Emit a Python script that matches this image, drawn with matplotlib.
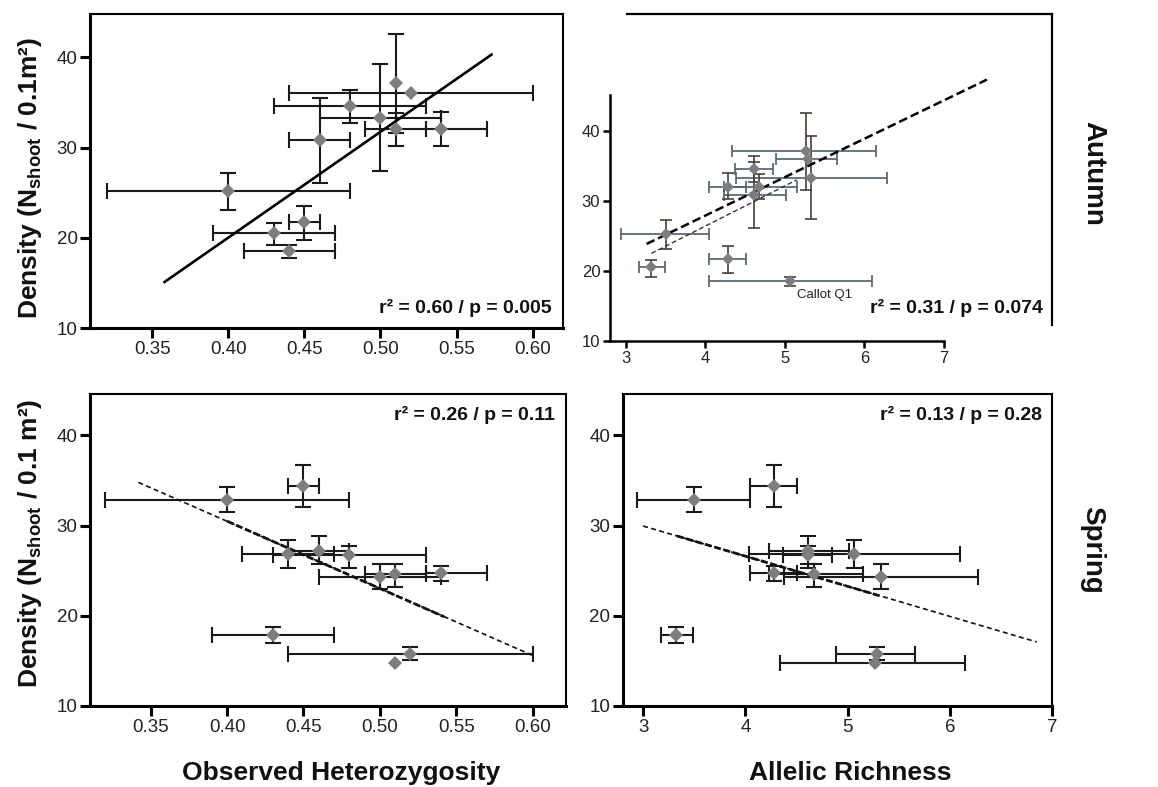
import numpy as np
import matplotlib
matplotlib.use("Agg")
import matplotlib.pyplot as plt

plt.rcParams['font.family'] = ['Liberation Sans', 'DejaVu Sans']
plt.rcParams['mathtext.fontset'] = 'custom'
plt.rcParams['mathtext.rm'] = 'Liberation Sans'
plt.rcParams['mathtext.bf'] = 'Liberation Sans:bold'

# ---- data (one entry per site) ----
ho     = [0.52, 0.48, 0.50, 0.51, 0.51, 0.54, 0.46, 0.40, 0.45, 0.43, 0.44]
ho_lo  = [0.44, 0.43, 0.46, 0.51, 0.49, 0.53, 0.44, 0.32, 0.44, 0.39, 0.41]
ho_hi  = [0.60, 0.53, 0.54, 0.51, 0.53, 0.57, 0.48, 0.48, 0.46, 0.47, 0.47]
ar     = [5.29, 4.61, 5.33, 5.27, 4.67, 4.28, 4.61, 3.50, 4.28, 3.32, 5.06]
ar_lo  = [4.89, 4.37, 4.38, 4.34, 4.23, 4.05, 4.23, 2.94, 4.05, 3.17, 4.04]
ar_hi  = [5.66, 4.85, 6.28, 6.15, 5.15, 4.51, 5.01, 4.05, 4.51, 3.49, 6.10]
aut    = [36.0, 34.6, 33.3, 37.1, 32.0, 32.0, 30.8, 25.2, 21.7, 20.5, 18.5]
aut_lo = [36.0, 32.7, 27.4, 31.6, 30.2, 30.2, 26.1, 23.1, 19.7, 19.2, 17.8]
aut_hi = [36.0, 36.4, 39.3, 42.6, 33.8, 33.9, 35.5, 27.2, 23.5, 21.6, 19.2]
spr    = [15.8, 26.7, 24.3, 14.8, 24.6, 24.8, 27.2, 32.9, 34.4, 17.9, 26.9]
spr_lo = [15.1, 25.3, 23.0, 14.8, 23.2, 23.9, 25.8, 31.5, 32.1, 17.0, 25.3]
spr_hi = [16.5, 27.7, 25.7, 14.8, 25.7, 25.5, 28.8, 34.3, 36.7, 18.8, 28.4]

# fitted lines (end points)
fit_aut_ho_x = [0.358, 0.573]
fit_aut_ho_y = [15.1, 40.3]
fit_aut_ar_x = [3.26, 7.54]
fit_aut_ar_y = [23.85, 47.3]
fit_aut_ar2_x = [3.32, 5.15]
fit_aut_ar2_y = [22.5, 33.0]
fit_spr_ho_x = [0.342, 0.600]
fit_spr_ho_y = [34.8, 15.6]
fit_spr_ho_thick_x = [0.400, 0.542]
fit_spr_ho_thick_y = [30.5, 19.9]
fit_spr_ar_x = [3.00, 6.85]
fit_spr_ar_y = [29.96, 17.1]
fit_spr_ar_thick_x = [3.33, 5.32]
fit_spr_ar_thick_y = [28.86, 22.2]

ho_ticks = [0.35, 0.40, 0.45, 0.50, 0.55, 0.60]
ar_ticks = [3, 4, 5, 6, 7]
y_ticks = [10, 20, 30, 40]

W, H = 1158, 787
fig = plt.figure(figsize=(W / 100, H / 100), dpi=100)


def rect(l, t, r, b):
    return [l / W, 1 - b / H, (r - l) / W, (b - t) / H]


def style(ax, lw_main=2.2, lw_box=1.5, box=True, tsize=13.5, tlen=7):
    for s in ['left', 'bottom']:
        ax.spines[s].set_linewidth(lw_main)
    for s in ['top', 'right']:
        if box:
            ax.spines[s].set_linewidth(lw_box)
        else:
            ax.spines[s].set_visible(False)
    ax.tick_params(direction='out', length=tlen, width=lw_main, labelsize=tsize,
                   pad=2, top=False, right=False, colors='black', labelcolor='#222222')


def draw(ax, x, xlo, xhi, y, ylo, yhi, xcol, ycol, ms=7.5, lw=1.5, cs=6):
    x, xlo, xhi = np.array(x), np.array(xlo), np.array(xhi)
    y, ylo, yhi = np.array(y), np.array(ylo), np.array(yhi)
    mx = xhi > xlo
    ax.errorbar(x[mx], y[mx], xerr=[x[mx] - xlo[mx], xhi[mx] - x[mx]], fmt='none',
                ecolor=xcol, elinewidth=lw, capsize=cs, capthick=lw, zorder=2)
    my = yhi > ylo
    ax.errorbar(x[my], y[my], yerr=[y[my] - ylo[my], yhi[my] - y[my]], fmt='none',
                ecolor=ycol, elinewidth=lw, capsize=cs, capthick=lw, zorder=2)
    ax.plot(x, y, 'D', color='#7d7d7d', ms=ms, mew=0, zorder=5)


bold = dict(fontweight='bold', color='#111111')

# ---- top-left: autumn vs Ho ----
ax1 = fig.add_axes(rect(90, 14, 563, 328))
draw(ax1, ho, ho_lo, ho_hi, aut, aut_lo, aut_hi, '#1a1a1a', '#1a1a1a')
ax1.plot(fit_aut_ho_x, fit_aut_ho_y, color='black', lw=1.9, zorder=3)
ax1.set_xlim(0.309, 0.620)
ax1.set_ylim(10, 44.8)
ax1.set_xticks(ho_ticks)
ax1.set_xticklabels([f'{t:.2f}' for t in ho_ticks])
ax1.set_yticks(y_ticks)
style(ax1)
ax1.text(0.977, 0.064, 'r² = 0.60 / p = 0.005', transform=ax1.transAxes,
         ha='right', va='center', fontsize=14, **bold)

# ---- top-right: autumn vs AR (small inset-like axes + frame) ----
frame = fig.add_axes(rect(627, 14, 1052, 325))
frame.set_facecolor('none')
for s in ['left', 'bottom']:
    frame.spines[s].set_visible(False)
for s in ['top', 'right']:
    frame.spines[s].set_linewidth(1.6)
frame.set_xticks([])
frame.set_yticks([])

ax2 = fig.add_axes(rect(610, 95, 944, 341))
ax2.set_facecolor('none')
draw(ax2, ar, ar_lo, ar_hi, aut, aut_lo, aut_hi, '#47616d', '#4a3d35',
     ms=6, lw=1.2, cs=4.5)
ax2.plot(fit_aut_ar_x, fit_aut_ar_y, color='black', lw=1.8,
         linestyle=(0, (3.5, 1.6)), zorder=3, clip_on=False)
ax2.plot(fit_aut_ar2_x, fit_aut_ar2_y, color='#333333', lw=1.0,
         linestyle=(0, (3.5, 2)), zorder=3)
ax2.text(5.15, 16.5, 'Callot Q1', ha='left', va='center', fontsize=9.5, color='#222222')
ax2.set_xlim(2.80, 7.0)
ax2.set_ylim(10, 45.1)
ax2.set_xticks(ar_ticks)
ax2.set_yticks(y_ticks)
style(ax2, lw_main=1.8, box=False, tsize=12, tlen=5)
fig.text(1043 / W, 1 - 308 / H, 'r² = 0.31 / p = 0.074', ha='right', va='center',
         fontsize=14, **bold)

# ---- bottom-left: spring vs Ho ----
ax3 = fig.add_axes(rect(90, 394, 566, 706))
draw(ax3, ho, ho_lo, ho_hi, spr, spr_lo, spr_hi, '#1a1a1a', '#1a1a1a')
ax3.plot(fit_spr_ho_x, fit_spr_ho_y, color='#111111', lw=1.2,
         linestyle=(0, (3, 2)), zorder=3)
ax3.plot(fit_spr_ho_thick_x, fit_spr_ho_thick_y, color='#111111', lw=2.0,
         linestyle=(0, (2.5, 1)), zorder=3)
ax3.set_xlim(0.3103, 0.6218)
ax3.set_ylim(10, 44.6)
ax3.set_xticks(ho_ticks)
ax3.set_xticklabels([f'{t:.2f}' for t in ho_ticks])
ax3.set_yticks(y_ticks)
style(ax3)
ax3.text(0.977, 0.933, 'r² = 0.26 / p = 0.11', transform=ax3.transAxes,
         ha='right', va='center', fontsize=14, **bold)

# ---- bottom-right: spring vs AR ----
ax4 = fig.add_axes(rect(622.7, 394, 1052, 706))
draw(ax4, ar, ar_lo, ar_hi, spr, spr_lo, spr_hi, '#1a1a1a', '#1a1a1a')
ax4.plot(fit_spr_ar_x, fit_spr_ar_y, color='#111111', lw=1.2,
         linestyle=(0, (3, 2)), zorder=3)
ax4.plot(fit_spr_ar_thick_x, fit_spr_ar_thick_y, color='#111111', lw=2.0,
         linestyle=(0, (2.5, 1)), zorder=3)
ax4.set_xlim(2.80, 7.0)
ax4.set_ylim(10, 44.6)
ax4.set_xticks(ar_ticks)
ax4.set_yticks(y_ticks)
style(ax4)
ax4.text(0.977, 0.933, 'r² = 0.13 / p = 0.28', transform=ax4.transAxes,
         ha='right', va='center', fontsize=14, **bold)

# ---- figure labels ----
fig.text(30 / W, 1 - 178 / H, r'Density (N$_{\mathbf{shoot}}$ / 0.1m²)', rotation=90,
         ha='center', va='center', fontsize=19, **bold)
fig.text(30 / W, 1 - 543 / H, r'Density (N$_{\mathbf{shoot}}$ / 0.1 m²)', rotation=90,
         ha='center', va='center', fontsize=19, **bold)
fig.text(341 / W, 1 - 773 / H, 'Observed Heterozygosity', ha='center', va='center',
         fontsize=19, **bold)
fig.text(850 / W, 1 - 773 / H, 'Allelic Richness', ha='center', va='center',
         fontsize=19, **bold)
fig.text(1093 / W, 1 - 173 / H, 'Autumn', rotation=270, ha='center', va='center',
         fontsize=20, **bold)
fig.text(1092 / W, 1 - 550 / H, 'Spring', rotation=270, ha='center', va='center',
         fontsize=20, **bold)

fig.savefig('out.png', dpi=100, facecolor='white')
